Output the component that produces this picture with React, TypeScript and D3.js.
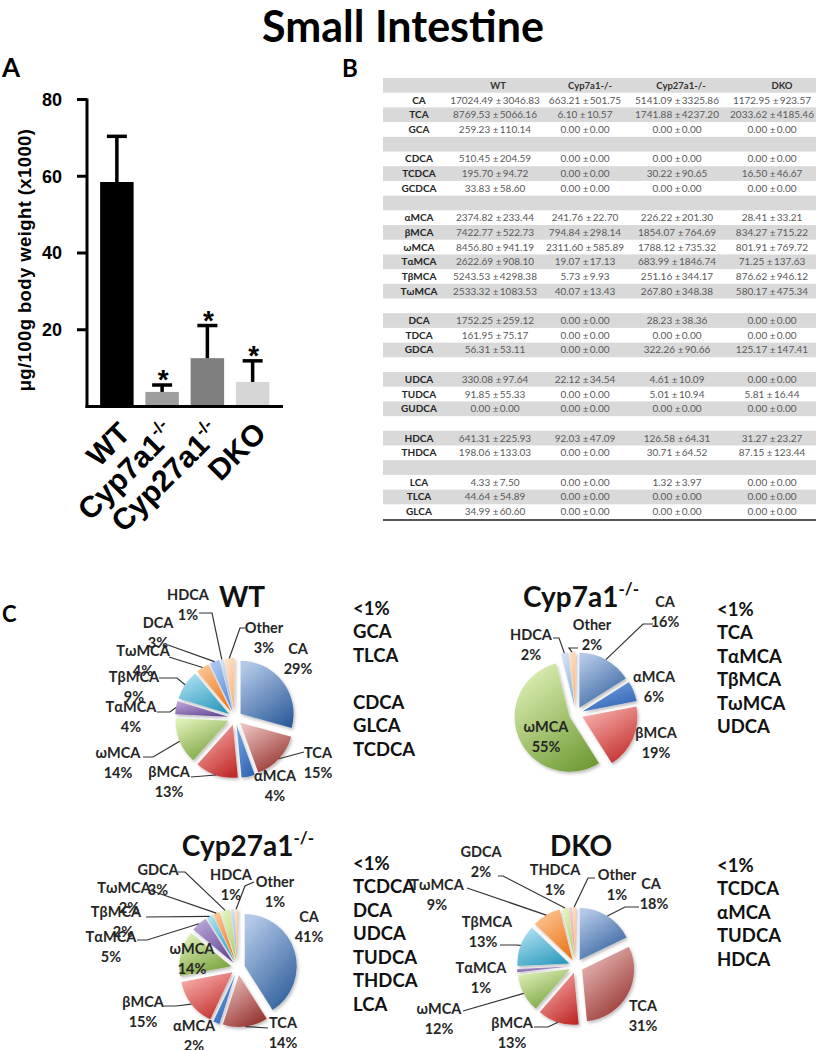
import React from 'react';
import * as d3 from 'd3';

// ---------------- Data ----------------
const genotypes = ['WT', 'Cyp7a1', 'Cyp27a1', 'DKO'];
const genotypeSup = ['', '-/-', '-/-', ''];
const totalMean = [58.5, 3.8, 12.6, 6.4];
const totalErr = [11.9, 1.8, 8.5, 5.5];
const significant = [false, true, true, true];
const yTicks = [20, 40, 60, 80];

const tableHeaders = ['WT', 'Cyp7a1-/-', 'Cyp27a1-/-', 'DKO'];
const acidRows = ['CA', 'TCA', 'GCA', '', 'CDCA', 'TCDCA', 'GCDCA', '', 'αMCA', 'βMCA', 'ωMCA', 'TαMCA', 'TβMCA', 'TωMCA', '', 'DCA', 'TDCA', 'GDCA', '', 'UDCA', 'TUDCA', 'GUDCA', '', 'HDCA', 'THDCA', '', 'LCA', 'TLCA', 'GLCA'];
const wtMean = [17024.49, 8769.53, 259.23, null, 510.45, 195.70, 33.83, null, 2374.82, 7422.77, 8456.80, 2622.69, 5243.53, 2533.32, null, 1752.25, 161.95, 56.31, null, 330.08, 91.85, 0.00, null, 641.31, 198.06, null, 4.33, 44.64, 34.99];
const wtSD = [3046.83, 5066.16, 110.14, null, 204.59, 94.72, 58.60, null, 233.44, 522.73, 941.19, 908.10, 4298.38, 1083.53, null, 259.12, 75.17, 53.11, null, 97.64, 55.33, 0.00, null, 225.93, 133.03, null, 7.50, 54.89, 60.60];
const cyp7Mean = [663.21, 6.10, 0, null, 0, 0, 0, null, 241.76, 794.84, 2311.60, 19.07, 5.73, 40.07, null, 0, 0, 0, null, 22.12, 0, 0, null, 92.03, 0, null, 0, 0, 0];
const cyp7SD = [501.75, 10.57, 0, null, 0, 0, 0, null, 22.70, 298.14, 585.89, 17.13, 9.93, 13.43, null, 0, 0, 0, null, 34.54, 0, 0, null, 47.09, 0, null, 0, 0, 0];
const cyp27Mean = [5141.09, 1741.88, 0, null, 0, 30.22, 0, null, 226.22, 1854.07, 1788.12, 683.99, 251.16, 267.80, null, 28.23, 0, 322.26, null, 4.61, 5.01, 0, null, 126.58, 30.71, null, 1.32, 0, 0];
const cyp27SD = [3325.86, 4237.20, 0, null, 0, 90.65, 0, null, 201.30, 764.69, 735.32, 1846.74, 344.17, 348.38, null, 38.36, 0, 90.66, null, 10.09, 10.94, 0, null, 64.31, 64.52, null, 3.97, 0, 0];
const dkoMean = [1172.95, 2033.62, 0, null, 0, 16.50, 0, null, 28.41, 834.27, 801.91, 71.25, 876.62, 580.17, null, 0, 0, 125.17, null, 0, 5.81, 0, null, 31.27, 87.15, null, 0, 0, 0];
const dkoSD = [923.57, 4185.46, 0, null, 0, 46.67, 0, null, 33.21, 715.22, 769.72, 137.63, 946.12, 475.34, null, 0, 0, 147.41, null, 0, 16.44, 0, null, 23.27, 123.44, null, 0, 0, 0];

const wtPieNames = ['CA', 'TCA', 'αMCA', 'βMCA', 'ωMCA', 'TαMCA', 'TβMCA', 'TωMCA', 'DCA', 'HDCA', 'Other'];
const wtPiePct = [29, 15, 4, 13, 14, 4, 9, 4, 3, 1, 3];
const cyp7PieNames = ['CA', 'αMCA', 'βMCA', 'ωMCA', 'HDCA', 'Other'];
const cyp7PiePct = [16, 6, 19, 55, 2, 2];
const cyp27PieNames = ['CA', 'TCA', 'αMCA', 'βMCA', 'ωMCA', 'TαMCA', 'TβMCA', 'TωMCA', 'GDCA', 'HDCA', 'Other'];
const cyp27PiePct = [41, 14, 2, 15, 14, 5, 2, 2, 3, 1, 1];
const dkoPieNames = ['CA', 'TCA', 'βMCA', 'ωMCA', 'TαMCA', 'TβMCA', 'TωMCA', 'GDCA', 'THDCA', 'Other'];
const dkoPiePct = [18, 31, 13, 12, 1, 13, 9, 2, 1, 1];

const wtMinor = ['<1%', 'GCA', 'TLCA', '', 'CDCA', 'GLCA', 'TCDCA'];
const cyp7Minor = ['<1%', 'TCA', 'TαMCA', 'TβMCA', 'TωMCA', 'UDCA'];
const cyp27Minor = ['<1%', 'TCDCA', 'DCA', 'UDCA', 'TUDCA', 'THDCA', 'LCA'];
const dkoMinor = ['<1%', 'TCDCA', 'αMCA', 'TUDCA', 'HDCA'];

// ---------------- Styles ----------------
const CAL = "Lato, 'Open Sans', 'Noto Sans', sans-serif";
const ARIAL = "'Liberation Sans', Arial, sans-serif";
const barColors = ['#000000', '#9e9e9e', '#7f7f7f', '#d6d6d6'];

const sliceColors: Record<string, [string, string]> = {
  CA: ['#b4c9e8', '#2f5e9c'],
  TCA: ['#ecbebc', '#922f2b'],
  'αMCA': ['#74a2e2', '#2f62b2'],
  'βMCA': ['#f9b0ae', '#c02c29'],
  'ωMCA': ['#def0b6', '#719c36'],
  'TαMCA': ['#b9a6d6', '#654694'],
  'TβMCA': ['#aee1f2', '#2a9abb'],
  'TωMCA': ['#fcc594', '#ec7619'],
  DCA: ['#abc8f2', '#568ad6'],
  HDCA: ['#d4e2f4', '#8fb1dc'],
  Other: ['#fde4cc', '#f8b47a'],
  GDCA: ['#e6f4c2', '#aed068'],
  THDCA: ['#f9cfcf', '#e49696'],
};

type LabelSpec = { x: number; y: number; pctDx?: number; leader?: number[][] };
type PieLayout = {
  cx: number; cy: number; r: number; explode: number;
  title: string; sup: string; titleX: number; titleY: number;
  listX: number; listY: number;
  labels: Record<string, LabelSpec>;
};

const wtLayout: PieLayout = {
  cx: 235, cy: 718, r: 53, explode: 7, title: 'WT', sup: '', titleX: 242, titleY: 607,
  listX: 353, listY: 608,
  labels: {
    CA: { x: 298, y: 649 },
    TCA: { x: 318, y: 753, leader: [[304, 752]] },
    'αMCA': { x: 275, y: 776 },
    'βMCA': { x: 169, y: 772, leader: [[191, 777]] },
    'ωMCA': { x: 118, y: 753, leader: [[143, 757], [153, 757]] },
    'TαMCA': { x: 131, y: 707, leader: [[157, 712], [170, 712]] },
    'TβMCA': { x: 134, y: 677, leader: [[159, 678], [177, 678]] },
    'TωMCA': { x: 143, y: 651, leader: [[169, 657]] },
    DCA: { x: 158, y: 623, leader: [[168, 645]] },
    HDCA: { x: 188, y: 595, leader: [[199, 613], [212, 613]] },
    Other: { x: 264, y: 628, leader: [[245, 628], [240, 628]] },
  },
};
const cyp7Layout: PieLayout = {
  cx: 576, cy: 714, r: 55, explode: 7, title: 'Cyp7a1', sup: '-/-', titleX: 581, titleY: 607,
  listX: 717, listY: 609,
  labels: {
    CA: { x: 665, y: 602, leader: [[653, 624], [643, 624]] },
    'αMCA': { x: 654, y: 677 },
    'βMCA': { x: 656, y: 733 },
    'ωMCA': { x: 546, y: 727 },
    HDCA: { x: 531, y: 635, leader: [[553, 638], [559, 638]] },
    Other: { x: 592, y: 625, leader: [[578, 648], [569, 648]] },
  },
};
const cyp27Layout: PieLayout = {
  cx: 238, cy: 968, r: 52, explode: 7, title: 'Cyp27a1', sup: '-/-', titleX: 248, titleY: 856,
  listX: 353, listY: 863,
  labels: {
    CA: { x: 309, y: 917 },
    TCA: { x: 283, y: 1023, leader: [[268, 1028]] },
    'αMCA': { x: 194, y: 1026 },
    'βMCA': { x: 143, y: 1002, leader: [[164, 1006], [176, 1006]] },
    'ωMCA': { x: 192, y: 949 },
    'TαMCA': { x: 111, y: 937, leader: [[137, 940], [147, 940]] },
    'TβMCA': { x: 116, y: 912, pctDx: 7, leader: [[146, 917]] },
    'TωMCA': { x: 124, y: 888, pctDx: 5, leader: [[149, 890]] },
    GDCA: { x: 158, y: 870, leader: [[178, 872], [185, 872]] },
    HDCA: { x: 231, y: 875 },
    Other: { x: 275, y: 882, leader: [[254, 882], [245, 886]] },
  },
};
const dkoLayout: PieLayout = {
  cx: 576, cy: 966, r: 52, explode: 7, title: 'DKO', sup: '', titleX: 581, titleY: 856,
  listX: 717, listY: 865,
  labels: {
    CA: { x: 651, y: 884, pctDx: 3, leader: [[639, 907], [625, 907]] },
    TCA: { x: 643, y: 1006 },
    'βMCA': { x: 512, y: 1023, leader: [[534, 1027], [548, 1027]] },
    'ωMCA': { x: 439, y: 1009, leader: [[463, 1011]] },
    'TαMCA': { x: 481, y: 968 },
    'TβMCA': { x: 487, y: 922, pctDx: -4, leader: [[500, 945], [516, 945]] },
    'TωMCA': { x: 437, y: 885, leader: [[467, 888]] },
    GDCA: { x: 481, y: 852, leader: [[498, 876], [503, 876]] },
    THDCA: { x: 555, y: 870 },
    Other: { x: 617, y: 875, leader: [[595, 878], [588, 878]] },
  },
};

// ---------------- Panel A ----------------
function BarPanel() {
  const x = d3.scaleBand<string>().domain(genotypes).range([87, 282.5]).paddingInner(0.26).paddingOuter(0.29);
  const y = d3.scaleLinear().domain([0, 80]).range([406.5, 99.5]);
  const bw = x.bandwidth();
  return (
    <g>
      {genotypes.map((g, i) => {
        const x0 = x(g)!;
        const cxm = x0 + bw / 2;
        const top = y(totalMean[i]);
        const et = y(totalMean[i] + totalErr[i]);
        return (
          <g key={g}>
            <rect x={x0} y={top} width={bw} height={y(0) - top} fill={barColors[i]} />
            <line x1={cxm} x2={cxm} y1={top} y2={et} stroke="#000" strokeWidth={3.5} />
            <line x1={cxm - 10} x2={cxm + 10} y1={et} y2={et} stroke="#000" strokeWidth={3.5} />
            {significant[i] && (
              <text x={cxm + 1} y={et + 4} textAnchor="middle" fontFamily={ARIAL} fontWeight="bold" fontSize={28}>*</text>
            )}
            <text transform={`translate(${cxm + 15},${435}) rotate(-45)`} textAnchor="end" fontFamily={ARIAL} fontWeight="bold" fontSize={30}>
              {g}
              {genotypeSup[i] && <tspan fontSize={17} dy={-13}>{genotypeSup[i]}</tspan>}
            </text>
          </g>
        );
      })}
      <line x1={87} x2={87} y1={y(80) - 1} y2={y(0) + 1.5} stroke="#000" strokeWidth={3} />
      <line x1={85.5} x2={283} y1={y(0)} y2={y(0)} stroke="#000" strokeWidth={3} />
      {yTicks.map((t) => (
        <g key={t}>
          <line x1={77} x2={87} y1={y(t)} y2={y(t)} stroke="#000" strokeWidth={3} />
          <text x={62} y={y(t)} dy="0.36em" textAnchor="end" fontFamily={ARIAL} fontWeight="bold" fontSize={18}>{t}</text>
        </g>
      ))}
      <text transform="translate(31,260) rotate(-90)" textAnchor="middle" fontFamily={ARIAL} fontWeight="bold" fontSize={18.5} letterSpacing={0.4}>μg/100g body weight (x1000)</text>
    </g>
  );
}

// ---------------- Panel B ----------------
function TablePanel() {
  const left = 383, right = 816, top = 78, rowH = 14.7;
  const headerX = [498, 590, 681, 782];
  const valueX = [495, 585, 677, 772];
  const means = [wtMean, cyp7Mean, cyp27Mean, dkoMean];
  const sds = [wtSD, cyp7SD, cyp27SD, dkoSD];
  const rows = d3.range(acidRows.length + 1);
  const fmt = d3.format('.2f');
  return (
    <g fontFamily={CAL}>
      {rows.map((r) => r % 2 === 0 && (
        <rect key={r} x={left} y={top + r * rowH} width={right - left} height={rowH} fill="#d9d9d9" />
      ))}
      {tableHeaders.map((h, j) => (
        <text key={h} x={headerX[j]} y={top + rowH / 2} dy="0.35em" textAnchor="middle" fontSize={9.5} fontWeight="bold" fill="#333">{h}</text>
      ))}
      {acidRows.map((a, i) => {
        if (!a) return null;
        const yc = top + (i + 1) * rowH + rowH / 2;
        return (
          <g key={a}>
            <text x={419} y={yc} dy="0.35em" textAnchor="middle" fontSize={10} fontWeight="bold" fill="#262626">{a}</text>
            {means.map((m, j) => (
              <text key={j} x={valueX[j]} y={yc} dy="0.35em" textAnchor="middle" fontSize={10} fill="#595959">
                {`${fmt(m[i] as number)} ±\u2009${fmt(sds[j][i] as number)}`}
              </text>
            ))}
          </g>
        );
      })}
      <line x1={left} x2={right} y1={top + rows.length * rowH + 1} y2={top + rows.length * rowH + 1} stroke="#555" strokeWidth={2} />
    </g>
  );
}

// ---------------- Panel C ----------------
function PieChart({ names, values, minor, L, id }: { names: string[]; values: number[]; minor: string[]; L: PieLayout; id: string }) {
  const pie = d3.pie<number>().sort(null).value((d) => d);
  const arcs = pie(values);
  const arc = d3.arc<d3.PieArcDatum<number>>().innerRadius(0).outerRadius(L.r);
  return (
    <g>
      <defs>
        {names.map((n, i) => (
          <linearGradient key={n} id={`${id}-g-${i}`} x1="0.2" y1="0" x2="0.8" y2="1">
            <stop offset="0" stopColor={sliceColors[n][0]} />
            <stop offset="1" stopColor={sliceColors[n][1]} />
          </linearGradient>
        ))}
      </defs>
      <g filter="url(#pieShadow)">
        {arcs.map((a, i) => {
          const mid = (a.startAngle + a.endAngle) / 2;
          const dx = Math.sin(mid) * L.explode;
          const dy = -Math.cos(mid) * L.explode;
          return (
            <path key={i} d={arc(a)!} transform={`translate(${L.cx + dx},${L.cy + dy})`} fill={`url(#${id}-g-${i})`} />
          );
        })}
      </g>
      {arcs.map((a, i) => {
        const n = names[i];
        const spec = L.labels[n];
        if (!spec) return null;
        const mid = (a.startAngle + a.endAngle) / 2;
        const rr = L.r + L.explode;
        const end = [L.cx + Math.sin(mid) * rr, L.cy - Math.cos(mid) * rr];
        const pts = spec.leader ? [...spec.leader, end] : null;
        return (
          <g key={n}>
            {pts && (
              <polyline points={pts.map((p) => p.join(',')).join(' ')} fill="none" stroke="#333" strokeWidth={1.2} />
            )}
            <text x={spec.x} y={spec.y} dy="0.36em" textAnchor="middle" fontFamily={CAL} fontWeight="bold" fontSize={14.5} fill="#262626">{n}</text>
            <text x={spec.x + (spec.pctDx || 0)} y={spec.y + 20} dy="0.36em" textAnchor="middle" fontFamily={CAL} fontWeight="bold" fontSize={14.5} fill="#262626">{`${values[i]}%`}</text>
          </g>
        );
      })}
      <text x={L.titleX} y={L.titleY} textAnchor="middle" fontFamily={CAL} fontWeight="bold" fontSize={28} fill="#111">
        {L.title}
        {L.sup && <tspan fontSize={17} dy={-12}>{L.sup}</tspan>}
      </text>
      {minor.map((m, k) => m && (
        <text key={k} x={L.listX} y={L.listY + k * 23.5} dy="0.36em" fontFamily={CAL} fontWeight="bold" fontSize={18.5} fill="#111">{m}</text>
      ))}
    </g>
  );
}

export default function App() {
  return (
    <svg width={820} height={1050} style={{ position: 'absolute', left: 0, top: 0, background: '#fff' }}>
      <defs>
        <filter id="pieShadow" x="-20%" y="-20%" width="140%" height="140%">
          <feDropShadow dx="1.5" dy="2" stdDeviation="1.5" floodColor="#000" floodOpacity="0.25" />
        </filter>
      </defs>
      <rect x={0} y={0} width={820} height={1050} fill="#fff" />
      <text x={403} y={42} textAnchor="middle" fontFamily={CAL} fontWeight="bold" fontSize={43} fill="#000">Small Intestine</text>
      <text x={2} y={77} fontFamily={CAL} fontWeight="bold" fontSize={26} fill="#000">A</text>
      <text x={342} y={77} fontFamily={CAL} fontWeight="bold" fontSize={24} fill="#000">B</text>
      <text x={2} y={622} fontFamily={CAL} fontWeight="bold" fontSize={22} fill="#000">C</text>
      <BarPanel />
      <TablePanel />
      <PieChart id="wt" names={wtPieNames} values={wtPiePct} minor={wtMinor} L={wtLayout} />
      <PieChart id="c7" names={cyp7PieNames} values={cyp7PiePct} minor={cyp7Minor} L={cyp7Layout} />
      <PieChart id="c27" names={cyp27PieNames} values={cyp27PiePct} minor={cyp27Minor} L={cyp27Layout} />
      <PieChart id="dko" names={dkoPieNames} values={dkoPiePct} minor={dkoMinor} L={dkoLayout} />
    </svg>
  );
}
